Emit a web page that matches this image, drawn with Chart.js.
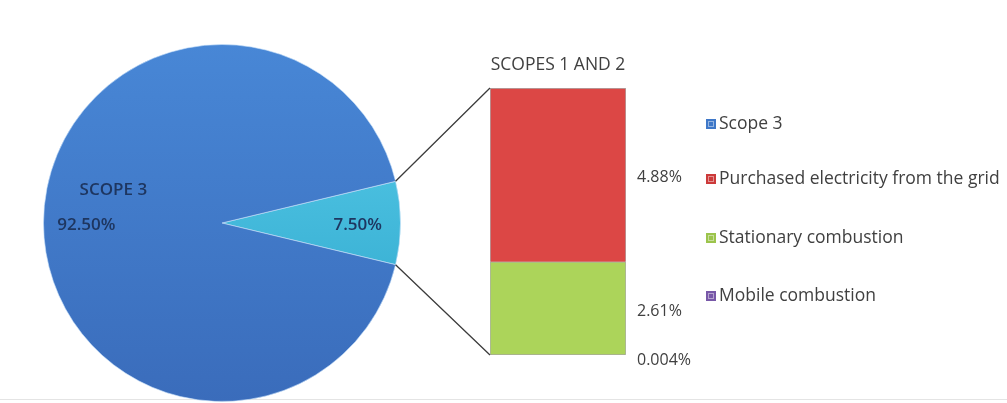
<!DOCTYPE html>
<html>
<head>
<meta charset="utf-8">
<script src="https://cdn.jsdelivr.net/npm/chart.js@4.4.1/dist/chart.umd.min.js"></script>
<style>
  html, body { margin: 0; padding: 0; background: #fff; }
  #wrap { position: relative; width: 1007px; height: 403px; overflow: hidden; }
  #wrap canvas { position: absolute; left: 0; top: 0; }
  #base { position: absolute; left: 0; top: 399px; width: 1007px; height: 1px; background: #e4e4e4; }
</style>
</head>
<body>
<div id="wrap">
  <div id="base"></div>
  <canvas id="pie" width="1007" height="403"></canvas>
  <canvas id="bar" width="1007" height="403"></canvas>
</div>
<script>
// pie: the small slice is broken out into the stacked bar on the right
const pieLabels = ['Scopes 1 and 2', 'Scope 3'];
const pieValues = [7.50, 92.50];
const pieValueText = ['7.50%', '92.50%'];

// bar: bottom to top
const barLabels = ['Mobile combustion', 'Stationary combustion', 'Purchased electricity from the grid'];
const barValues = [0.004, 2.61, 4.88];
const barValueText = ['0.004%', '2.61%', '4.88%'];

const legendLabels = ['Scope 3', 'Purchased electricity from the grid', 'Stationary combustion', 'Mobile combustion'];

const colores = {
  scope3: ['#4887d6', '#3a6cbb'],
  scope12: ['#5cd0ec', '#2aa2c9'],
  electricidad: ['#dc4745', '#bf302e'],
  estacionaria: ['#acd45a', '#8ab43d'],
  movil: ['#8a68b8', '#6a4a98']
};
const legendColors = ['#3f78c8', '#cc3a3a', '#9cc44c', '#7858a8'];
const tonosPie = [colores.scope12, colores.scope3];

const fuente = '"Open Sans", "DejaVu Sans", sans-serif';
const gris = '#404040';

function gradienteVertical(ctx, par) {
  const chart = ctx.chart;
  const area = chart.chartArea;
  if (!area) return par[0];
  const g = chart.ctx.createLinearGradient(0, area.top, 0, area.bottom);
  g.addColorStop(0, par[0]);
  g.addColorStop(1, par[1]);
  return g;
}

function gradienteHorizontal(ctx, par) {
  const el = ctx.element;
  if (!el || el.x === undefined) return par[0];
  const w = el.width || 0;
  const g = ctx.chart.ctx.createLinearGradient(el.x - w / 2, 0, el.x + w / 2, 0);
  g.addColorStop(0, par[0]);
  g.addColorStop(0.5, par[0]);
  g.addColorStop(1, par[1]);
  return g;
}

// labels inside the pie
const etiquetasPie = {
  id: 'etiquetasPie',
  afterDatasetsDraw(chart) {
    const c = chart.ctx;
    const meta = chart.getDatasetMeta(0);
    c.save();
    c.fillStyle = '#1e3660';
    c.font = '600 17px ' + fuente;
    c.textBaseline = 'middle';
    c.textAlign = 'center';
    meta.data.forEach((arc, i) => {
      const mid = (arc.startAngle + arc.endAngle) / 2;
      const r = arc.outerRadius * 0.76;
      const x = arc.x + Math.cos(mid) * r;
      const y = arc.y + Math.sin(mid) * r;
      if (i === 1) {
        c.fillText('SCOPE 3', x + 27, y - 33);
        c.fillText(pieValueText[i], x, y + 2);
      } else {
        c.fillText(pieValueText[i], x, y + 2);
      }
    });
    c.restore();
  }
};

const pieChart = new Chart(document.getElementById('pie'), {
  type: 'pie',
  data: {
    labels: pieLabels,
    datasets: [{
      data: pieValues,
      backgroundColor: ctx => gradienteVertical(ctx, tonosPie[ctx.dataIndex]),
      borderColor: 'rgba(200,225,250,0.6)',
      borderWidth: 1
    }]
  },
  options: {
    responsive: false,
    animation: false,
    rotation: 76.5,
    layout: { padding: { left: 43, right: 606, top: 43, bottom: 0 } },
    plugins: { legend: { display: false }, tooltip: { enabled: false } }
  },
  plugins: [etiquetasPie]
});

// connector lines, value labels, title and legend
const extrasBarra = {
  id: 'extrasBarra',
  afterDatasetsDraw(chart) {
    const c = chart.ctx;
    const arco = pieChart.getDatasetMeta(0).data[0];
    const arriba = chart.getDatasetMeta(barValues.length - 1).data[0];
    const abajo = chart.getDatasetMeta(0).data[0];
    const izq = arriba.x - arriba.width / 2;
    const der = arriba.x + arriba.width / 2;
    const R = arco.outerRadius;

    c.save();
    c.strokeStyle = '#3c3c3c';
    c.lineWidth = 1.3;
    c.beginPath();
    c.moveTo(arco.x + Math.cos(arco.startAngle) * R, arco.y + Math.sin(arco.startAngle) * R);
    c.lineTo(izq, arriba.y);
    c.moveTo(arco.x + Math.cos(arco.endAngle) * R, arco.y + Math.sin(arco.endAngle) * R);
    c.lineTo(izq, abajo.base);
    c.stroke();

    // title above the bar
    c.fillStyle = gris;
    c.font = '17.5px ' + fuente;
    c.textAlign = 'center';
    c.textBaseline = 'middle';
    c.fillText('SCOPES 1 AND 2', (izq + der) / 2, chart.chartArea.top - 23);

    // value labels to the right of each segment
    c.font = '16px ' + fuente;
    c.textAlign = 'left';
    barValues.forEach((v, i) => {
      const el = chart.getDatasetMeta(i).data[0];
      const y = i === 0 ? el.base + 5 : (el.y + el.base) / 2 + 3;
      c.fillText(barValueText[i], der + 11, y);
    });

    // legend
    const filas = [124, 179, 238, 296];
    c.font = '17.5px ' + fuente;
    legendLabels.forEach((t, i) => {
      c.fillStyle = legendColors[i];
      c.fillRect(706, filas[i] - 5, 10, 10);
      c.strokeStyle = 'rgba(255,255,255,0.45)';
      c.lineWidth = 1;
      c.strokeRect(708.5, filas[i] - 2.5, 5, 5);
      c.fillStyle = gris;
      c.fillText(t, 719, filas[i]);
    });
    c.restore();
  }
};

const tonos = [colores.movil, colores.estacionaria, colores.electricidad];

new Chart(document.getElementById('bar'), {
  type: 'bar',
  data: {
    labels: ['Scopes 1 and 2'],
    datasets: barValues.map((v, i) => ({
      label: barLabels[i],
      data: [v],
      backgroundColor: ctx => gradienteHorizontal(ctx, tonos[i]),
      borderColor: 'rgba(90,90,90,0.5)',
      borderWidth: 1,
      barPercentage: 1,
      categoryPercentage: 1
    }))
  },
  options: {
    responsive: false,
    animation: false,
    layout: { padding: { left: 490, right: 381, top: 88, bottom: 48 } },
    scales: {
      x: { stacked: true, display: false },
      y: { stacked: true, display: false, min: 0, max: barValues.reduce((a, b) => a + b, 0) }
    },
    plugins: { legend: { display: false }, tooltip: { enabled: false } }
  },
  plugins: [extrasBarra]
});
</script>
</body>
</html>
